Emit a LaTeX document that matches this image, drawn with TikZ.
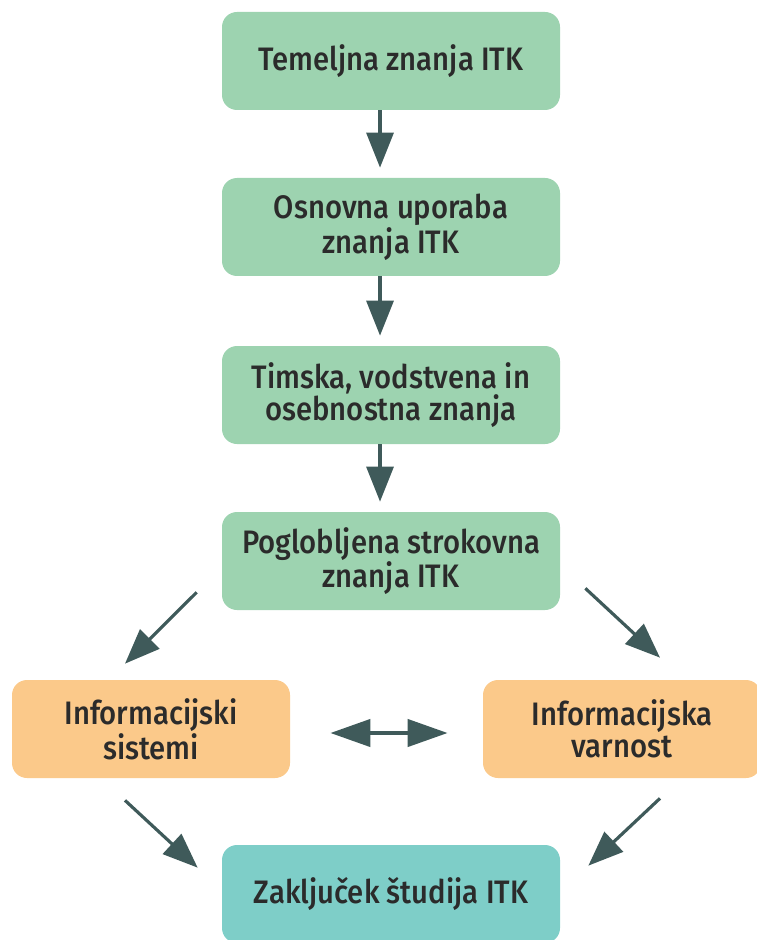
\documentclass[tikz,border=0pt]{standalone}
\usepackage{fontspec}
\setmainfont{Fira Sans}[UprightFont=* Medium, FakeStretch=0.9]
\usetikzlibrary{arrows.meta}
\definecolor{boxgreen}{HTML}{9DD3B0}
\definecolor{boxorange}{HTML}{FBC98A}
\definecolor{boxteal}{HTML}{7ECEC8}
\definecolor{arrowdark}{HTML}{3F5A5A}
\definecolor{textdark}{HTML}{2B2B2B}

\begin{document}
\begin{tikzpicture}[
  box/.style={rounded corners=0.3cm, minimum width=6.76cm, minimum height=1.96cm,
    align=center, text=textdark, font=\fontsize{18.5}{18}\selectfont},
  greenbox/.style={box, fill=boxgreen},
  orangebox/.style={box, fill=boxorange, minimum width=5.56cm},
  tealbox/.style={box, fill=boxteal},
  arr/.style={draw=arrowdark, line width=1.8pt, -{Triangle[length=0.7cm, width=0.54cm]}},
  dblarr/.style={draw=arrowdark, line width=2.4pt, {Triangle[length=0.8cm, width=0.54cm]}-{Triangle[length=0.8cm, width=0.54cm]}}
]
\useasboundingbox (0, 0) rectangle (15.12, -18.8);

\node[greenbox] (temelj) at (7.82, -1.22) {Temeljna znanja ITK};
\node[greenbox] (osnov) at (7.82, -4.54) {Osnovna uporaba\\znanja ITK};
\node[greenbox] (timska) at (7.82, -7.9) {Timska, vodstvena in\\osebnostna znanja};
\node[greenbox] (poglob) at (7.82, -11.22) {Poglobljena strokovna\\znanja ITK};

\node[orangebox] (infsis) at (3.02, -14.58) {Informacijski\\sistemi};
\node[orangebox] (infvar) at (12.44, -14.58) {Informacijska\\varnost};

\node[tealbox] (zaklj) at (7.82, -17.88) {Zaklju\v{c}ek \v{s}tudija ITK};

% navpicne puscice
\draw[arr] ([xshift=-0.22cm]temelj.south) -- ([xshift=-0.22cm, yshift=0.2cm]osnov.north);
\draw[arr] ([xshift=-0.22cm]osnov.south) -- ([xshift=-0.22cm, yshift=0.2cm]timska.north);
\draw[arr] ([xshift=-0.22cm]timska.south) -- ([xshift=-0.22cm, yshift=0.2cm]poglob.north);

% razcep
\draw[arr] ([shift={(-0.5, 0.36)}]poglob.south west) -- ([shift={(-0.52, 0.32)}]infsis.north);
\draw[arr] ([shift={(0.5, 0.44)}]poglob.south east) -- ([shift={(0.76, 0.44)}]infvar.north);

\draw[dblarr] ([xshift=0.8cm, yshift=-0.08cm]infsis.east) -- ([xshift=-0.7cm, yshift=-0.08cm]infvar.west);

% zdruzitev
\draw[arr] ([shift={(-0.52, -0.44)}]infsis.south) -- ([shift={(-0.48, -0.46)}]zaklj.north west);
\draw[arr] ([shift={(0.76, -0.4)}]infvar.south) -- ([shift={(0.56, -0.42)}]zaklj.north east);

\end{tikzpicture}
\end{document}
